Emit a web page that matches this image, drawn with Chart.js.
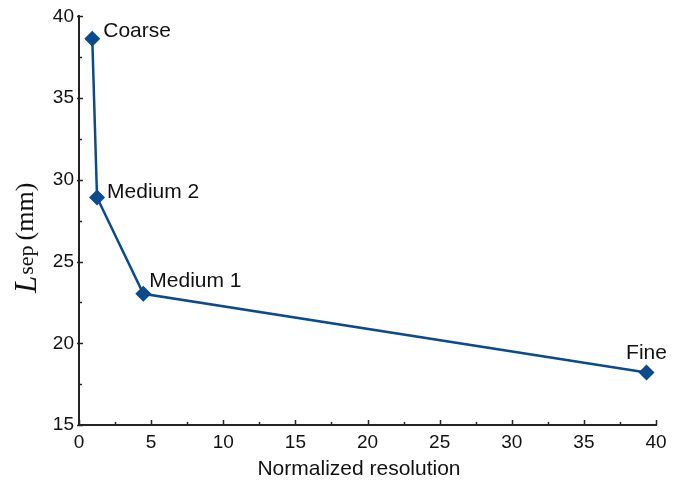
<!DOCTYPE html>
<html>
<head>
<meta charset="utf-8">
<script src="https://cdn.jsdelivr.net/npm/chart.js@4.4.1/dist/chart.umd.min.js"></script>
<style>
  html, body { margin: 0; padding: 0; background: #fff; }
  #wrap { width: 700px; height: 483px; }
</style>
</head>
<body>
<div id="wrap"><canvas id="c" width="700" height="483"></canvas></div>
<script>
// Mesh study: separation length versus normalized grid resolution
const meshNames      = ['Coarse', 'Medium 2', 'Medium 1', 'Fine'];
const normResolution = [0.92, 1.25, 4.46, 39.34];
const lSep           = [38.64, 28.92, 23.03, 18.21];
const xTickValues    = [0, 5, 10, 15, 20, 25, 30, 35, 40];
const yTickValues    = [15, 20, 25, 30, 35, 40];

const lineBlue = '#0b4a8c';
const axisInk = '#222222';
const sansFamily = '"Liberation Sans", Arial, sans-serif';
const serifFamily = '"Liberation Serif", "Times New Roman", serif';

// Inward major/minor tick marks along the left and bottom axes
const innerTicks = {
  id: 'innerTicks',
  afterDraw(chart) {
    const { ctx, chartArea, scales } = chart;
    const xs = scales.x, ys = scales.y;
    ctx.save();
    ctx.strokeStyle = axisInk;
    ctx.lineWidth = 1.5;
    const step = (xTickValues[1] - xTickValues[0]) / 2;
    for (let v = xs.min; v <= xs.max + 1e-9; v += step) {
      const px = Math.round(xs.getPixelForValue(v)) + 0.5;
      const major = xTickValues.includes(v);
      ctx.beginPath();
      ctx.moveTo(px, chartArea.bottom);
      ctx.lineTo(px, chartArea.bottom - (major ? 5 : 3));
      ctx.stroke();
    }
    const ystep = (yTickValues[1] - yTickValues[0]) / 2;
    for (let v = ys.min; v <= ys.max + 1e-9; v += ystep) {
      const py = Math.round(ys.getPixelForValue(v)) + 0.5;
      const major = yTickValues.includes(v);
      ctx.beginPath();
      ctx.moveTo(chartArea.left - (major ? 2 : 0), py);
      ctx.lineTo(chartArea.left + (major ? 4 : 3), py);
      ctx.stroke();
    }
    ctx.restore();
  }
};

// Mesh names written beside each marker
const pointNames = {
  id: 'pointNames',
  afterDatasetsDraw(chart) {
    const { ctx } = chart;
    const meta = chart.getDatasetMeta(0);
    // offset from the marker to the text baseline start, and alignment
    const place = [
      { dx: 11, dy: -1.5, align: 'left' },
      { dx: 10, dy: 0.8, align: 'left' },
      { dx: 6, dy: -7, align: 'left' },
      { dx: 0, dy: -13.5, align: 'center' }
    ];
    ctx.save();
    ctx.fillStyle = '#111';
    ctx.font = '21px ' + sansFamily;
    ctx.textBaseline = 'alphabetic';
    meta.data.forEach((pt, i) => {
      const p = place[i];
      ctx.textAlign = p.align;
      ctx.fillText(meshNames[i], pt.x + p.dx, pt.y + p.dy);
    });
    ctx.restore();
  }
};

// Axis titles: sans x title, serif y title with italic L and subscript
const axisTitles = {
  id: 'axisTitles',
  afterDraw(chart) {
    const { ctx } = chart;
    ctx.save();
    ctx.fillStyle = '#111';
    ctx.textBaseline = 'alphabetic';
    ctx.font = '21px ' + sansFamily;
    ctx.textAlign = 'center';
    ctx.fillText('Normalized resolution', 359, 475);

    ctx.translate(0, 293);
    ctx.rotate(-Math.PI / 2);
    ctx.textAlign = 'left';
    let s = 0;
    ctx.font = 'italic 31px ' + serifFamily;
    ctx.fillText('L', s, 35.5);
    s += ctx.measureText('L').width + 1;
    ctx.font = '22px ' + serifFamily;
    ctx.fillText('sep', s, 33);
    s += ctx.measureText('sep').width + 5;
    ctx.font = '26px ' + serifFamily;
    ctx.fillText('(mm)', s, 32.5);
    ctx.restore();
  }
};

new Chart(document.getElementById('c'), {
  type: 'scatter',
  data: {
    datasets: [{
      data: normResolution.map((x, i) => ({ x, y: lSep[i] })),
      showLine: true,
      borderColor: lineBlue,
      borderWidth: 2.5,
      backgroundColor: lineBlue,
      pointStyle: 'rectRot',
      pointRadius: 8,
      pointHoverRadius: 8,
      pointBorderWidth: 0,
      tension: 0
    }]
  },
  options: {
    responsive: false,
    animation: false,
    devicePixelRatio: 1,
    layout: { padding: { top: 15, right: 44, left: 0, bottom: 0 } },
    plugins: { legend: { display: false }, tooltip: { enabled: false } },
    scales: {
      x: {
        type: 'linear',
        min: 0, max: 40,
        afterBuildTicks(scale) { scale.ticks = xTickValues.map(v => ({ value: v })); },
        afterFit(scale) { scale.height = 58; },
        grid: { display: false, drawTicks: false },
        border: { display: true, color: axisInk, width: 2 },
        ticks: {
          padding: 6,
          color: '#111',
          font: { family: sansFamily, size: 19 },
          maxRotation: 0
        }
      },
      y: {
        type: 'linear',
        min: 15, max: 40,
        afterBuildTicks(scale) { scale.ticks = yTickValues.map(v => ({ value: v })); },
        afterFit(scale) { scale.width = 79; },
        grid: { display: false, drawTicks: false },
        border: { display: true, color: axisInk, width: 2 },
        ticks: {
          padding: 5,
          color: '#111',
          font: { family: sansFamily, size: 19 }
        }
      }
    }
  },
  plugins: [innerTicks, pointNames, axisTitles]
});
</script>
</body>
</html>
